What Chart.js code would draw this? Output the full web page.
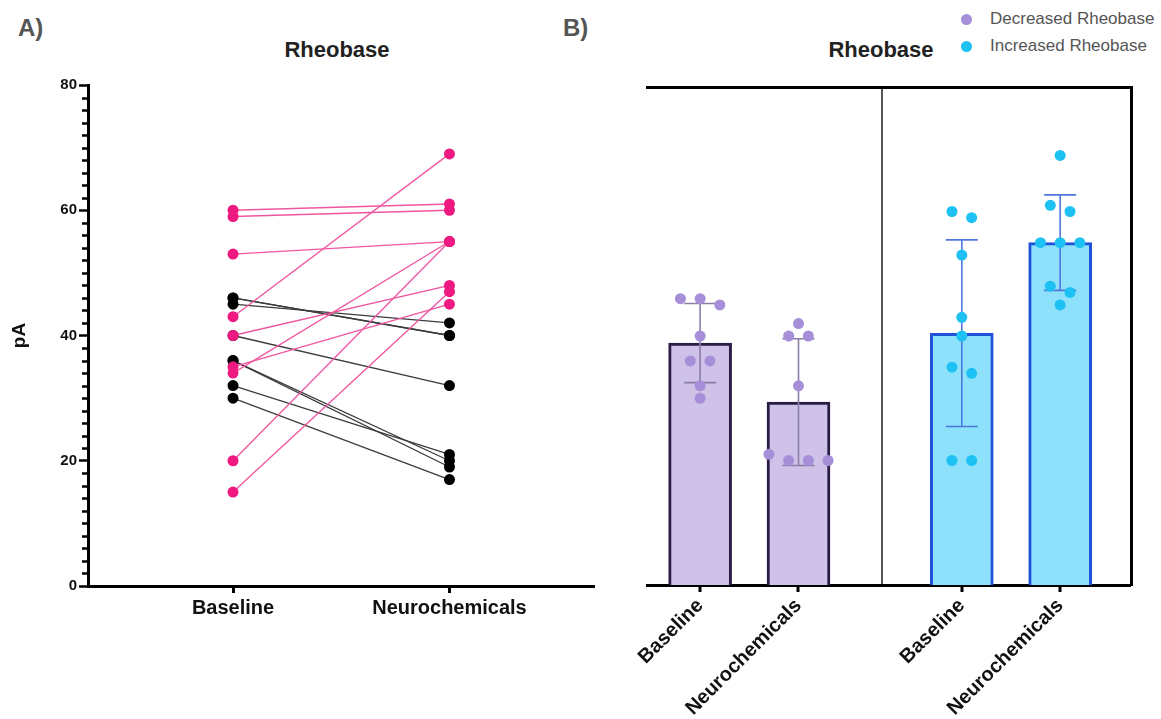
<!DOCTYPE html>
<html>
<head>
<meta charset="utf-8">
<script src="https://cdn.jsdelivr.net/npm/chart.js@4.4.1/dist/chart.umd.min.js"></script>
<style>
  html, body { margin: 0; padding: 0; background: #fff; }
  body { width: 1161px; height: 719px; position: relative; overflow: hidden;
         font-family: "Liberation Sans", Arial, sans-serif; }
  canvas { position: absolute; top: 0; }
  #chartA { left: 0; }
  #chartB { left: 600px; }
  .tag { position: absolute; font-weight: bold; font-size: 24px; color: #555; line-height: 28px; }
  .title { position: absolute; font-weight: bold; font-size: 22px; color: #222; line-height: 26px;
           transform: translateX(-50%); white-space: nowrap; }
  .leg { position: absolute; left: 961px; font-size: 17px; color: #555; line-height: 20px; white-space: nowrap; }
  .leg i { display: inline-block; width: 11px; height: 11px; border-radius: 50%;
           margin-right: 18px; vertical-align: -1px; }
</style>
</head>
<body>
<div class="tag" style="left:18px; top:14px;">A)</div>
<div class="tag" style="left:563px; top:14px;">B)</div>
<div class="title" style="left:337px; top:37px;">Rheobase</div>
<div class="title" style="left:881px; top:37px;">Rheobase</div>
<div class="leg" style="top:9px;"><i style="background:#A68ED8"></i>Decreased Rheobase</div>
<div class="leg" style="top:36px;"><i style="background:#1EC1F3"></i>Increased Rheobase</div>

<canvas id="chartA" width="600" height="719"></canvas>
<canvas id="chartB" width="561" height="719"></canvas>

<script>
// Conditions and y-axis labels
const conditions = ['Baseline', 'Neurochemicals'];
const yTickValues = [0, 20, 40, 60, 80];

// Panel A: paired recordings (pA), baseline -> neurochemicals
const decreasedBaselineA = [46, 46, 45, 40, 36, 36, 32, 30];
const decreasedNeuroA    = [40, 40, 42, 32, 20, 19, 21, 17];
const increasedBaselineA = [60, 59, 53, 43, 40, 35, 34, 20, 15];
const increasedNeuroA    = [61, 60, 55, 69, 48, 45, 55, 55, 47];

// Panel B: individual cells per group (pA)
const decreasedBaselineB = [46, 46, 45, 40, 36, 36, 32, 30];
const decreasedNeuroB    = [42, 40, 40, 32, 21, 20, 20, 20];
const increasedBaselineB = [60, 59, 53, 43, 40, 35, 34, 20, 20];
const increasedNeuroB    = [69, 61, 60, 55, 55, 55, 48, 47, 45];

// ---- helpers ----
const mean = a => a.reduce((s, v) => s + v, 0) / a.length;
const sd = a => { const m = mean(a); return Math.sqrt(a.reduce((s, v) => s + (v - m) ** 2, 0) / (a.length - 1)); };

// Simple beeswarm: values that sit too close vertically are spread sideways
function swarm(values, center, step, gap) {
  const sorted = values.slice().sort((a, b) => b - a);
  const clusters = [];
  sorted.forEach(v => {
    const last = clusters[clusters.length - 1];
    if (last && last[last.length - 1] - v < gap) last.push(v); else clusters.push([v]);
  });
  const pts = [];
  clusters.forEach(c => c.forEach((v, i) => pts.push({ x: center + (i - (c.length - 1) / 2) * step, y: v })));
  return pts;
}

const bold = size => ({ family: '"Liberation Sans", Arial, sans-serif', size, weight: 'bold' });

// ---------------- Panel A: paired lines ----------------
const PINK = '#EE1A82', PINK_LINE = '#F0559F';
const datasetsA = [];
decreasedBaselineA.forEach((b, i) => datasetsA.push({
  data: [{ x: 1, y: b }, { x: 2, y: decreasedNeuroA[i] }],
  borderColor: '#3c3c3c', borderWidth: 1.3,
  pointBackgroundColor: '#000', pointBorderWidth: 0, pointRadius: 5.5, order: 2
}));
increasedBaselineA.forEach((b, i) => datasetsA.push({
  data: [{ x: 1, y: b }, { x: 2, y: increasedNeuroA[i] }],
  borderColor: PINK_LINE, borderWidth: 1.3,
  pointBackgroundColor: PINK, pointBorderWidth: 0, pointRadius: 5.5, order: 1
}));

// short minor ticks on the y axis, every 2 pA
const MINOR_STEP = 2;
const minorTicks = {
  id: 'minorTicks',
  afterDraw(chart) {
    const y = chart.scales.y, ctx = chart.ctx;
    ctx.save();
    ctx.strokeStyle = '#000';
    ctx.lineWidth = 2.5;
    for (let v = y.min; v <= y.max; v += MINOR_STEP) {
      if (yTickValues.includes(v)) continue;
      const py = Math.round(y.getPixelForValue(v)) + 0.5;
      ctx.beginPath();
      ctx.moveTo(y.right - 6, py);
      ctx.lineTo(y.right, py);
      ctx.stroke();
    }
    ctx.restore();
  }
};

new Chart(document.getElementById('chartA'), {
  type: 'line',
  data: { datasets: datasetsA },
  plugins: [minorTicks],
  options: {
    responsive: false, animation: false, devicePixelRatio: 1,
    layout: { padding: { left: 0, right: 5, top: 85, bottom: 0 } },
    plugins: { legend: { display: false }, tooltip: { enabled: false } },
    scales: {
      x: {
        type: 'linear', min: 0.33, max: 2.67,
        afterBuildTicks: s => { s.ticks = [{ value: 1 }, { value: 2 }]; },
        ticks: { autoSkip: false, maxRotation: 0, padding: 3, color: '#111', font: bold(20),
                 callback: v => conditions[v - 1] || '' },
        grid: { drawOnChartArea: false, tickLength: 7, tickWidth: 3, tickColor: '#000' },
        border: { display: true, width: 3, color: '#000' },
        afterFit: s => { s.height = 719 - 586; }
      },
      y: {
        type: 'linear', min: 0, max: 80,
        afterBuildTicks: s => { s.ticks = yTickValues.map(v => ({ value: v })); },
        ticks: { padding: 2, color: '#111', font: bold(15) },
        grid: { drawOnChartArea: false, tickLength: 9, tickWidth: 2.5, tickColor: '#000' },
        border: { display: true, width: 3, color: '#000' },
        title: { display: true, text: 'pA', color: '#111', font: bold(19), padding: { top: 8 } },
        afterFit: s => { s.width = 88; }
      }
    }
  }
});

// ---------------- Panel B: bars with SD and individual cells ----------------
const SLOT = [1, 2, 3.66, 4.66];   // x positions of the four bars
const DIVIDER = 2.85;              // separator between the two groups
const SWARM_STEP = 0.2, SWARM_GAP = 1.6;

const groupsB = [
  { values: decreasedBaselineB, x: SLOT[0], fill: '#CEC2E8', edge: '#2A1C44', dot: '#A68ED8', err: '#8A7EA6' },
  { values: decreasedNeuroB,    x: SLOT[1], fill: '#CEC2E8', edge: '#2A1C44', dot: '#A68ED8', err: '#8A7EA6' },
  { values: increasedBaselineB, x: SLOT[2], fill: '#8EE1FA', edge: '#1F52D9', dot: '#1EC1F3', err: '#4F78DC' },
  { values: increasedNeuroB,    x: SLOT[3], fill: '#8EE1FA', edge: '#1F52D9', dot: '#1EC1F3', err: '#4F78DC' }
];

const datasetsB = [];
groupsB.forEach(g => {
  const m = mean(g.values), s = sd(g.values);
  datasetsB.push({
    type: 'bar', data: [{ x: g.x, y: m }], grouped: false, barThickness: 63,
    backgroundColor: g.fill, borderColor: g.edge, borderWidth: 3, borderSkipped: 'start', order: 3
  });
  datasetsB.push({
    type: 'line', data: [{ x: g.x, y: m - s }, { x: g.x, y: m + s }],
    borderColor: g.err, borderWidth: 1.6, pointStyle: 'line', pointRadius: 16,
    pointBorderColor: g.err, pointBorderWidth: 1.6, order: 2
  });
  datasetsB.push({
    type: 'scatter', data: swarm(g.values, g.x, SWARM_STEP, SWARM_GAP),
    pointRadius: 5.5, pointBackgroundColor: g.dot, pointBorderWidth: 0, order: 1
  });
});

const xTicksB = [SLOT[0], SLOT[1], DIVIDER, SLOT[2], SLOT[3]];
const isDivider = c => c.tick && c.tick.value === DIVIDER;
const labelFor = v => {
  const i = SLOT.indexOf(v);
  return i < 0 ? '' : conditions[i % 2];
};

new Chart(document.getElementById('chartB'), {
  type: 'bar',
  data: { datasets: datasetsB },
  options: {
    responsive: false, animation: false, devicePixelRatio: 1,
    layout: { padding: { left: 47, right: 30, top: 87, bottom: 0 } },
    plugins: { legend: { display: false }, tooltip: { enabled: false } },
    scales: {
      x: {
        type: 'linear', min: 0.46, max: 5.38, offset: false,
        afterBuildTicks: s => { s.ticks = xTicksB.map(v => ({ value: v })); },
        ticks: { autoSkip: false, minRotation: 45, maxRotation: 45, padding: 2, color: '#111',
                 font: bold(20), callback: labelFor },
        grid: {
          offset: false, drawOnChartArea: true, tickLength: 7, tickWidth: 3,
          color: c => isDivider(c) ? '#555' : 'rgba(0,0,0,0)',
          lineWidth: c => isDivider(c) ? 2 : 0,
          tickColor: c => isDivider(c) ? 'rgba(0,0,0,0)' : '#000'
        },
        border: { display: true, width: 3, color: '#000' },
        afterFit: s => { s.height = 719 - 585; }
      },
      xTop: {
        type: 'linear', position: 'top', min: 0.46, max: 5.38,
        ticks: { display: false },
        grid: { offset: false, drawOnChartArea: false, drawTicks: false },
        border: { display: true, width: 3, color: '#000' },
        afterFit: s => { s.height = 0; }
      },
      y: { type: 'linear', min: 0, max: 80, display: false },
      yRight: {
        type: 'linear', position: 'right', min: 0, max: 80,
        ticks: { display: false },
        grid: { drawOnChartArea: false, drawTicks: false },
        border: { display: true, width: 3, color: '#000' },
        afterFit: s => { s.width = 0; }
      }
    }
  }
});
</script>
</body>
</html>
